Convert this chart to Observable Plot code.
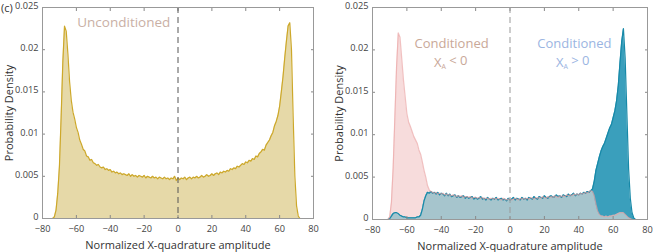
<!DOCTYPE html>
<html>
<head>
<meta charset="utf-8">
<script src="https://cdn.jsdelivr.net/npm/d3@7"></script>
<script src="https://cdn.jsdelivr.net/npm/@observablehq/plot@0.6"></script>
<style>
  html, body { margin: 0; padding: 0; background: #fff; }
  #wrap { position: relative; width: 654px; height: 252px; font-family: "Open Sans", sans-serif; }
  #left { position: absolute; left: 0; top: 0; }
  #right { position: absolute; left: 330px; top: 0; }
  #tag { position: absolute; left: 1px; top: 0px; font-size: 11px; color: #333; }
</style>
</head>
<body>
<div id="wrap">
  <div id="left"></div>
  <div id="right"></div>
  <div id="tag">(c)</div>
</div>
<script>
// x bins: -80 .. 80, step 1
const xStart = -80;
const unconditioned = [
  0,0,0,0,0,0,0,0.0002,0.0010,0.0030,
  0.0062,0.0120,0.0185,0.0228,0.0222,0.0195,0.0162,0.0140,0.0126,0.0118,
  0.0108,0.0102,0.0093,0.0088,0.0082,0.0080,0.0074,0.0073,0.0069,0.0070,
  0.0066,0.0065,0.0063,0.0064,0.0061,0.0060,0.0061,0.0058,0.0059,0.0057,
  0.0058,0.0055,0.0056,0.0054,0.0055,0.0053,0.0054,0.0052,0.0053,0.0052,
  0.0051,0.0053,0.0050,0.0052,0.0050,0.0051,0.0049,0.0051,0.0050,0.0049,
  0.0051,0.0048,0.0050,0.0049,0.0048,0.0050,0.0048,0.0049,0.0047,0.0049,
  0.0048,0.0047,0.0049,0.0047,0.0048,0.0046,0.0048,0.0047,0.0050,0.0045,
  0.0048,0.0046,0.0048,0.0047,0.0049,0.0046,0.0048,0.0049,0.0047,0.0049,
  0.0048,0.0050,0.0048,0.0049,0.0051,0.0049,0.0050,0.0052,0.0050,0.0051,
  0.0053,0.0051,0.0053,0.0054,0.0052,0.0055,0.0054,0.0056,0.0055,0.0057,
  0.0056,0.0059,0.0058,0.0060,0.0059,0.0062,0.0061,0.0063,0.0065,0.0064,
  0.0067,0.0066,0.0069,0.0068,0.0071,0.0070,0.0074,0.0073,0.0077,0.0079,
  0.0082,0.0081,0.0087,0.0090,0.0093,0.0098,0.0102,0.0110,0.0115,0.0122,
  0.0133,0.0150,0.0168,0.0190,0.0210,0.0228,0.0232,0.0200,0.0120,0.0050,
  0.0015,0.0003,0,0,0,0,0,0,0,0,0
];
const conditionedNeg = [
  0,0,0,0,0,0,0,0,0,0,
  0.0003,0.0020,0.0060,0.0120,0.0180,0.0220,0.0215,0.0190,0.0165,0.0145,
  0.0125,0.0115,0.0110,0.0104,0.0098,0.0094,0.0090,0.0082,0.0077,0.0068,
  0.0058,0.0050,0.0040,0.0035,0.0033,0.0032,0.0031,0.0032,0.0030,0.0031,
  0.0030,0.0031,0.0029,0.0030,0.0029,0.0029,0.0028,0.0029,0.0028,0.0027,
  0.0028,0.0027,0.0028,0.0026,0.0027,0.0027,0.0026,0.0027,0.0025,0.0026,
  0.0026,0.0025,0.0026,0.0025,0.0026,0.0024,0.0025,0.0025,0.0024,0.0025,
  0.0024,0.0025,0.0024,0.0025,0.0024,0.0023,0.0025,0.0024,0.0023,0.0024,
  0.0024,0.0023,0.0024,0.0025,0.0024,0.0023,0.0025,0.0024,0.0025,0.0024,
  0.0025,0.0024,0.0026,0.0025,0.0024,0.0026,0.0025,0.0026,0.0025,0.0027,
  0.0026,0.0025,0.0027,0.0026,0.0027,0.0026,0.0028,0.0027,0.0026,0.0028,
  0.0027,0.0028,0.0027,0.0029,0.0028,0.0029,0.0028,0.0030,0.0029,0.0030,
  0.0029,0.0031,0.0030,0.0031,0.0032,0.0031,0.0033,0.0034,0.0033,0.0028,
  0.0018,0.0010,0.0006,0.0004,0.0004,0.0003,0.0004,0.0003,0.0004,0.0004,
  0.0005,0.0005,0.0006,0.0007,0.0008,0.0008,0.0008,0.0006,0.0004,0.0002,
  0.0001,0,0,0,0,0,0,0,0,0,0
];
const conditionedPos = [
  0,0,0,0,0,0,0,0,0,0,
  0.0001,0.0004,0.0007,0.0008,0.0008,0.0007,0.0005,0.0004,0.0003,0.0003,
  0.0002,0.0002,0.0002,0.0002,0.0002,0.0002,0.0003,0.0003,0.0005,0.0012,
  0.0022,0.0028,0.0032,0.0031,0.0033,0.0031,0.0032,0.0030,0.0032,0.0029,
  0.0031,0.0030,0.0028,0.0031,0.0028,0.0030,0.0027,0.0028,0.0029,0.0026,
  0.0028,0.0026,0.0027,0.0028,0.0025,0.0027,0.0025,0.0026,0.0027,0.0024,
  0.0026,0.0024,0.0025,0.0027,0.0024,0.0025,0.0023,0.0026,0.0024,0.0023,
  0.0025,0.0024,0.0026,0.0023,0.0024,0.0025,0.0023,0.0024,0.0022,0.0025,
  0.0023,0.0024,0.0026,0.0023,0.0025,0.0024,0.0023,0.0026,0.0024,0.0025,
  0.0023,0.0026,0.0025,0.0024,0.0027,0.0025,0.0024,0.0027,0.0026,0.0025,
  0.0028,0.0026,0.0025,0.0027,0.0028,0.0026,0.0027,0.0029,0.0027,0.0028,
  0.0026,0.0029,0.0028,0.0027,0.0030,0.0028,0.0029,0.0031,0.0028,0.0030,
  0.0029,0.0031,0.0030,0.0032,0.0031,0.0033,0.0032,0.0034,0.0036,0.0045,
  0.0058,0.0066,0.0074,0.0081,0.0086,0.0090,0.0096,0.0102,0.0108,0.0112,
  0.0120,0.0128,0.0140,0.0158,0.0185,0.0210,0.0225,0.0190,0.0125,0.0060,
  0.0025,0.0008,0.0002,0,0,0,0,0,0,0,0
];
const xTicks = [-80, -60, -40, -20, 0, 20, 40, 60, 80];
const yTicks = [0, 0.005, 0.01, 0.015, 0.02, 0.025];
const yTickLabels = ["0", "0.005", "0.01", "0.015", "0.02", "0.025"];
const xLabel = "Normalized X-quadrature amplitude";
const yLabel = "Probability Density";

const rows = (arr) => arr.map((v, i) => ({x: xStart + i, y: v}));
const uData = rows(unconditioned);
const nData = rows(conditionedNeg);
const pData = rows(conditionedPos);
const overlap = nData.map((d, i) => ({x: d.x, y: Math.min(d.y, pData[i].y)}));

const fmtX = (d) => d < 0 ? "\u2212" + Math.abs(d) : String(d);
const fmtY = (d) => yTickLabels[yTicks.indexOf(d)] ?? String(d);

function axes(dashColor) {
  return [
    Plot.axisY(yTicks, {anchor: "left", tickSize: -3, tickPadding: 7, tickFormat: fmtY, label: yLabel, labelAnchor: "center", labelOffset: 37, labelArrow: "none", stroke: "#888", color: "#444"}),
    Plot.axisY(yTicks, {anchor: "right", tickSize: -3, text: null, label: null, stroke: "#888"}),
    Plot.axisX(xTicks, {anchor: "bottom", tickSize: -3, tickPadding: 10, tickFormat: fmtX, label: xLabel, labelAnchor: "center", labelOffset: 30, labelArrow: "none", stroke: "#888", color: "#444"}),
    Plot.axisX(xTicks, {anchor: "top", tickSize: -3, text: null, label: null, stroke: "#888"}),
    Plot.ruleX([0], {stroke: dashColor, strokeDasharray: "6,4", strokeWidth: 1}),
    Plot.frame({stroke: "#999"})
  ];
}

const common = {
  height: 252,
  x: {domain: [-80, 80]},
  y: {domain: [0, 0.025]},
  style: {fontFamily: "'Open Sans', sans-serif", fontSize: "9.2px", color: "#444", background: "#fff"}
};

const left = Plot.plot({
  ...common,
  width: 330,
  marginLeft: 42, marginRight: 17, marginTop: 7, marginBottom: 34,
  marks: [
    Plot.areaY(uData, {x: "x", y: "y", fill: "#e6d9a8", curve: "linear"}),
    Plot.lineY(uData, {x: "x", y: "y", stroke: "#cda82a", strokeWidth: 1.2}),
    ...axes("#555"),
    Plot.text(["Unconditioned"], {x: -32, y: 0.0232, fill: "#c9b0a5", fontSize: 13.5})
  ]
});

const right = Plot.plot({
  ...common,
  width: 324,
  marginLeft: 42, marginRight: 7, marginTop: 7, marginBottom: 33,
  marks: [
    Plot.areaY(nData, {x: "x", y: "y", fill: "#f7dcdc"}),
    Plot.areaY(pData, {x: "x", y: "y", fill: "#3a9fbc"}),
    Plot.areaY(overlap, {x: "x", y: "y", fill: "#a6c5cd"}),
    Plot.lineY(pData, {x: "x", y: "y", stroke: "#1789a8", strokeWidth: 1.2}),
    Plot.lineY(nData, {x: "x", y: "y", stroke: "#e9a0a0", strokeWidth: 1.2, strokeOpacity: 0.65}),
    ...axes("#999"),
    Plot.text(["Conditioned"], {x: -34, y: 0.0207, fill: "#c9a898", fontSize: 13}),
    Plot.text(["XA < 0"], {x: -34.5, y: 0.0185, fill: "#c9a898", fontSize: 13, className: "sub-label"}),
    Plot.text(["Conditioned"], {x: 37.5, y: 0.0207, fill: "#9bb5e2", fontSize: 13}),
    Plot.text(["XA > 0"], {x: 36.5, y: 0.0185, fill: "#9bb5e2", fontSize: 13, className: "sub-label"})
  ]
});

document.getElementById("left").appendChild(left);
document.getElementById("right").appendChild(right);

// axis title sizes
d3.selectAll('g[aria-label$="axis label"] text').style("font-size", "11px").attr("fill", "#333");

// nudge y tick labels up slightly so "0" clears the x tick labels
d3.selectAll('g[aria-label="y-axis tick label"]').each(function () {
  const g = d3.select(this);
  g.attr("transform", (g.attr("transform") || "") + " translate(0,-1.5)");
});

// subscript A in X_A labels
d3.selectAll(".sub-label text").each(function () {
  const t = d3.select(this);
  const s = t.text();
  const rest = s.slice(2);
  t.text(null);
  t.append("tspan").text("X");
  t.append("tspan").text("A").attr("font-size", "7px").attr("dy", "0.35em");
  t.append("tspan").text(rest).attr("dy", "-0.35em");
});
</script>
</body>
</html>
